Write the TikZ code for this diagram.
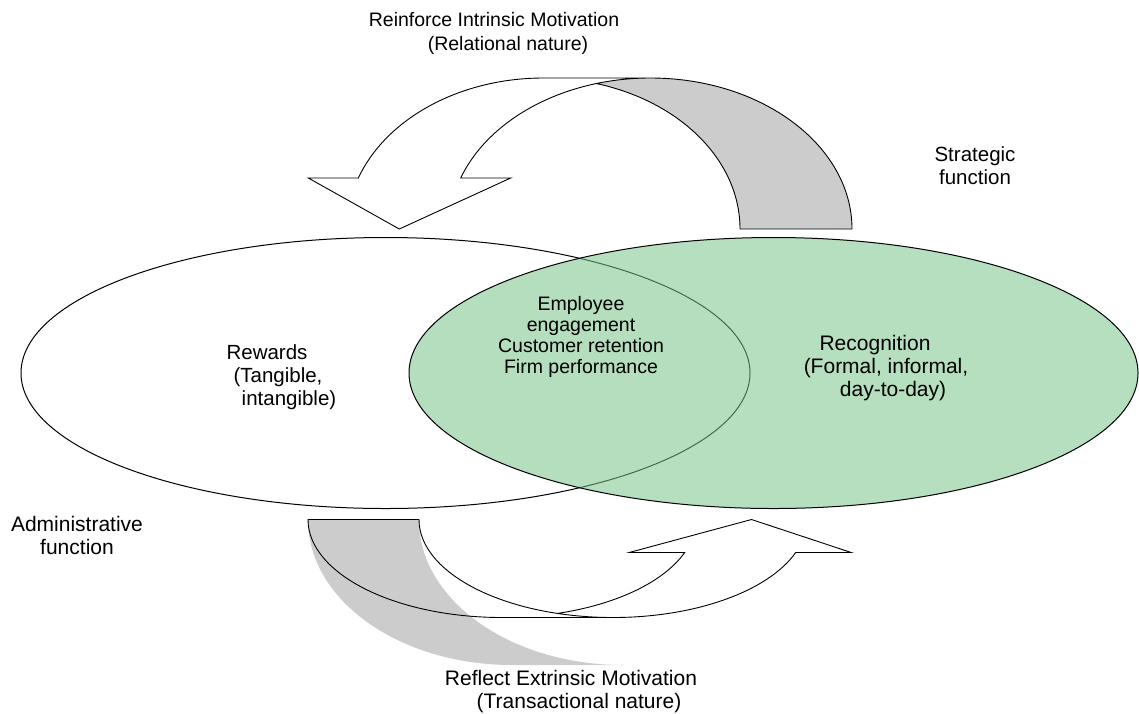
\documentclass[tikz,border=0pt]{standalone}
\usepackage{fontspec}
\setmainfont{Liberation Sans}
\definecolor{recgreen}{RGB}{120,196,136}
\definecolor{shadegray}{RGB}{204,204,204}
\begin{document}
\begin{tikzpicture}[x=1pt,y=-1pt,
  outline/.style={draw=black, line width=0.9pt, line join=miter},
  txt/.style={align=center, inner sep=0pt, font=\fontsize{20.5}{23}\selectfont},
  bigtxt/.style={align=center, inner sep=0pt, font=\fontsize{21}{23}\selectfont},
  toptxt/.style={align=center, inner sep=0pt, font=\fontsize{19.5}{24}\selectfont},
  midtxt/.style={align=center, inner sep=0pt, font=\fontsize{19.5}{21}\selectfont},
  outerarc/.style={x radius=196.6, y radius=151},
  innerarc/.style={x radius=201.6, y radius=151},
  bandB/.style={x radius=194, y radius=98},
  shadeband/.style={x radius=204, y radius=145},
]
\useasboundingbox (0,0) rectangle (1139,713);

% ---- the two overlapping ellipses ----
\draw[fill=white, line width=1pt] (385.5,373) ellipse [x radius=364.5, y radius=135.5];
\draw[fill=recgreen, fill opacity=0.55, line width=1pt] (773.5,373) ellipse [x radius=364.5, y radius=135.5];

% ---- upper curved arrow (points down onto Rewards) ----
\fill[white] (543.4,78) arc[outerarc, start angle=270, end angle=199.74]
  -- (308.3,178) -- (399.3,229) -- (510.7,178) -- (460.7,178)
  arc[innerarc, start angle=199.74, end angle=270] -- cycle;
\fill[shadegray] (596.2,83.5) arc[outerarc, start angle=285.58, end angle=360]
  -- (852,229) arc[innerarc, start angle=360, end angle=254.42] -- cycle;
\draw[outline] (596.2,83.5) arc[outerarc, start angle=285.58, end angle=360]
  -- (852,229) arc[innerarc, start angle=360, end angle=270]
  -- (543.4,78) arc[outerarc, start angle=270, end angle=199.74]
  -- (308.3,178) -- (399.3,229) -- (510.7,178) -- (460.7,178)
  arc[innerarc, start angle=199.74, end angle=270];

% ---- lower curved arrow (points up onto Recognition) ----
\fill[shadegray] (308,520) arc[shadeband, start angle=180, end angle=90]
  -- (623,665) arc[shadeband, start angle=90, end angle=180] -- cycle;
\draw[outline] (557.5,613.4) arc[bandB, start angle=73.38, end angle=19.68]
  -- (629.2,552.5) -- (751.5,519.5) -- (851.2,552.5) -- (795.7,552.5)
  arc[bandB, start angle=19.68, end angle=90]
  -- (502,617.5) arc[bandB, start angle=90, end angle=180]
  -- (419,519.5) arc[bandB, start angle=180, end angle=90];

% ---- labels ----
\node[toptxt] (intrinsic) at (498,33) {Reinforce Intrinsic Motivation\hspace*{8pt}\\\hspace*{20pt}(Relational nature)};
\node[bigtxt] (extrinsic) at (575,692) {Reflect Extrinsic Motivation\hspace*{8pt}\\\hspace*{8pt}(Transactional nature)};
\node[txt] (strategic) at (975,166) {Strategic\\function};
\node[bigtxt] (administrative) at (77,535) {Administrative\\function};
\node[txt] (rewards) at (278,377) {Rewards\hspace*{22pt}\\(Tangible,\\\hspace*{22pt}intangible)};
\node[bigtxt] (recognition) at (886,368) {Recognition\hspace*{22pt}\\(Formal, informal,\\\hspace*{14pt}day-to-day)};
\node[midtxt] (outcomes) at (581,337) {Employee\\engagement\\Customer retention\\Firm performance};
\end{tikzpicture}
\end{document}
